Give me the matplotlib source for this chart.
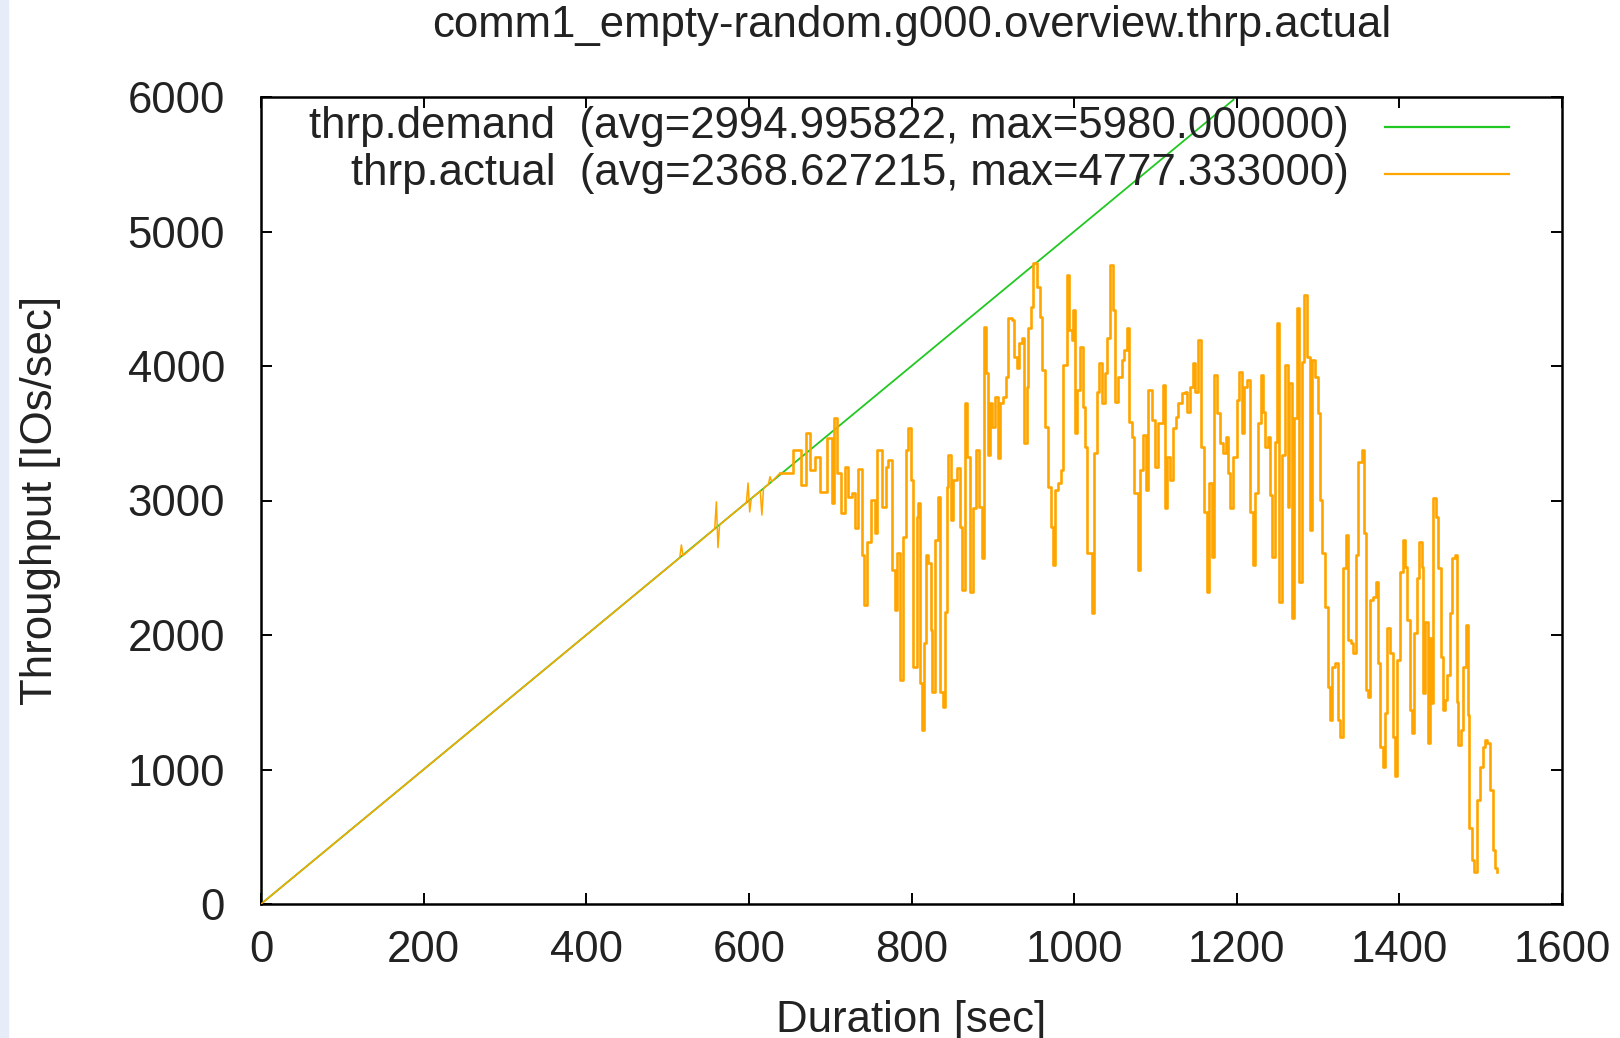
import matplotlib
matplotlib.use("Agg")
import matplotlib.pyplot as plt
from matplotlib.lines import Line2D
from matplotlib.patches import Rectangle

plt.rcParams['font.family'] = ['Liberation Sans', 'DejaVu Sans']

# ---------------- data ----------------
title = "comm1_empty-random.g000.overview.thrp.actual"
xlabel = "Duration [sec]"
ylabel = "Throughput [IOs/sec]"
demand_label = "thrp.demand  (avg=2994.995822, max=5980.000000)"
actual_label = "thrp.actual  (avg=2368.627215, max=4777.333000)"

xticks = [0, 200, 400, 600, 800, 1000, 1200, 1400, 1600]
yticks = [0, 1000, 2000, 3000, 4000, 5000, 6000]

# demand ramp
demand_t = [0, 1196]
demand_v = [0, 5980]

# actual: ramp phase (tracks demand, a few spikes)
ramp_t = [0, 400, 515, 517, 519, 558, 560, 562, 564, 597, 599, 601, 603,
          614, 616, 618, 624, 626, 628, 638]
ramp_v = [0, 2000, 2575, 2670, 2590, 2790, 2990, 2650, 2820, 2985, 3130, 2915, 3015,
          3070, 2892, 3090, 3120, 3177, 3140, 3202]

# actual: saturated phase (stepped samples)
act_t = [638.0, 654.7, 663.7, 670.3, 675.2, 681.4, 687.5, 695.7, 701.9, 704.7,
         708.8, 712.9, 718.3, 722.4, 726.5, 730.6, 734.7, 738.8, 741.6, 745.7,
         749.8, 755.2, 758.0, 763.4, 768.7, 771.6, 775.7, 779.8, 782.6, 785.9,
         789.2, 793.3, 795.3, 799.4, 802.3, 806.4, 808.5, 810.5, 812.6, 815.4,
         817.9, 820.7, 824.0, 825.6, 828.9, 832.2, 835.1, 839.2, 841.2, 843.3,
         845.3, 848.6, 851.5, 855.6, 859.7, 862.5, 865.8, 868.7, 872.0, 876.1,
         878.9, 883.0, 886.3, 889.6, 891.6, 893.7, 896.6, 899.4, 902.7, 906.0,
         908.9, 913.0, 915.8, 919.1, 923.2, 926.5, 929.4, 932.6, 936.3, 938.8,
         941.7, 943.7, 947.0, 949.9, 954.0, 958.1, 960.9, 964.2, 968.3, 971.6,
         973.6, 976.5, 980.6, 983.9, 986.8, 990.9, 993.7, 996.9, 999.0, 1001.1,
         1003.9, 1007.2, 1010.5, 1013.4, 1016.2, 1021.6, 1024.4, 1027.7, 1031.0, 1033.9,
         1038.0, 1040.8, 1044.1, 1047.4, 1050.3, 1054.4, 1058.5, 1061.3, 1064.6, 1067.9,
         1070.8, 1073.6, 1078.1, 1081.0, 1085.1, 1088.4, 1091.2, 1095.3, 1099.4, 1103.5,
         1108.9, 1111.7, 1114.6, 1117.9, 1122.0, 1125.3, 1128.2, 1132.3, 1136.4, 1139.2,
         1142.5, 1145.8, 1148.7, 1151.9, 1155.6, 1159.7, 1163.0, 1166.3, 1169.2, 1172.0,
         1175.3, 1179.4, 1183.5, 1186.3, 1189.6, 1191.7, 1195.8, 1199.9, 1202.7, 1206.0,
         1209.3, 1213.0, 1216.3, 1219.5, 1222.4, 1226.5, 1229.8, 1232.7, 1234.7, 1238.0,
         1240.9, 1243.7, 1247.0, 1249.1, 1251.9, 1255.2, 1259.3, 1262.6, 1264.2, 1267.5,
         1270.8, 1273.7, 1276.5, 1279.8, 1283.1, 1285.9, 1290.1, 1292.9, 1296.2, 1299.5,
         1302.4, 1305.2, 1308.5, 1312.6, 1314.7, 1317.5, 1320.8, 1324.9, 1327.0, 1330.2,
         1333.9, 1337.2, 1340.0, 1343.4, 1346.7, 1349.6, 1353.7, 1356.5, 1359.0, 1361.9,
         1363.9, 1368.0, 1371.3, 1374.2, 1376.2, 1380.3, 1382.4, 1385.2, 1388.5, 1391.8,
         1394.7, 1397.5, 1400.8, 1404.1, 1407.0, 1409.8, 1413.1, 1415.2, 1418.0, 1421.3,
         1424.6, 1427.5, 1429.5, 1431.6, 1434.8, 1437.7, 1439.8, 1441.8, 1445.1, 1448.0,
         1450.8, 1453.3, 1456.2, 1459.0, 1462.3, 1465.2, 1468.5, 1470.5, 1472.6, 1475.4,
         1478.7, 1482.0, 1484.0, 1485.7, 1489.0, 1491.8, 1495.1, 1499.2, 1502.5, 1505.4,
         1508.2, 1511.5, 1514.8, 1517.7, 1519.7]
act_v = [3202, 3376, 3116, 3505, 3227, 3326, 3066, 3463, 2979, 3611,
         3202, 2905, 3252, 3029, 3054, 2794, 3232, 2595, 2224, 2694,
         3004, 2756, 3376, 2955, 3252, 3302, 2484, 2187, 2608, 1666,
         2732, 3376, 3537, 3153, 1765, 2880, 2979, 1641, 1294, 1939,
         2595, 2533, 2038, 1579, 2707, 3029, 1579, 1468, 2174, 3103,
         3339, 2855, 3153, 3240, 2806, 2335, 3723, 3326, 2323, 2942,
         3376, 2955, 2570, 4293, 3946, 3339, 3723, 3549, 3772, 3314,
         3723, 3772, 3921, 4355, 4342, 4070, 3983, 4169, 4206, 3425,
         3847, 4280, 4441, 4764, 4590, 4367, 3971, 3549, 3103, 2806,
         2521, 3079, 3128, 3227, 4008, 4677, 4268, 4194, 4417, 3500,
         3822, 4144, 3698, 3401, 2608, 2162, 3351, 3810, 4020, 3723,
         3946, 4206, 4751, 4417, 3735, 3921, 4045, 4119, 4280, 3587,
         3475, 3054, 2484, 3227, 3487, 3079, 3822, 3599, 3252, 3574,
         3859, 2942, 3326, 3153, 3537, 3624, 3723, 3797, 3810, 3661,
         3847, 4020, 3810, 4194, 3401, 2917, 2323, 3128, 2583, 3933,
         3648, 3425, 3351, 3475, 3202, 2942, 3326, 3748, 3958, 3500,
         3847, 3896, 2917, 2521, 3054, 3574, 3933, 3661, 3401, 3475,
         3041, 2583, 3438, 4318, 2248, 3339, 4008, 2955, 3871, 2124,
         3611, 4429, 2397, 4033, 4528, 4070, 2781, 4045, 3921, 3648,
         3004, 2608, 2211, 1616, 1369, 1765, 1790, 1369, 1245, 2496,
         2744, 1963, 1940, 1864, 2595, 3289, 3376, 2756, 1592, 1542,
         2261, 2286, 2397, 1790, 1171, 1022, 1418, 2050, 1864, 1245,
         948, 1815, 2472, 2707, 2509, 2112, 1443, 1270, 2013, 2422,
         2695, 2509, 1567, 2100, 1195, 1976, 1493, 3017, 2880, 2496,
         1840, 1443, 1517, 1703, 2162, 2571, 2595, 1505, 1183, 1294,
         1765, 2075, 1406, 563, 328, 241, 774, 1022, 1171, 1220,
         1195, 848, 402, 266, 241]

# ---------------- style ----------------
GREEN = "#22c822"
ORANGE = "#ffa500"
FS = 31.5
TXT = "#222222"

fig = plt.figure(figsize=(16.2, 10.38), dpi=100)
fig.patches.append(Rectangle((0, 0), 8 / 1620, 1, transform=fig.transFigure,
                             color="#e6edf8", zorder=0))
ax = fig.add_axes([261 / 1620, 1 - 904 / 1038, 1301 / 1620, 807 / 1038])

ax.plot(demand_t, demand_v, color=GREEN, lw=1.3, zorder=2)
ax.plot(ramp_t, ramp_v, color=ORANGE, lw=1.1, zorder=3)
ax.plot(act_t, act_v, color=ORANGE, lw=1.9, drawstyle="steps-post", zorder=3)

ax.set_xlim(0, 1600)
ax.set_ylim(0, 6000)
ax.set_xticks(xticks)
ax.set_yticks(yticks)
ax.tick_params(direction="in", length=8, width=1.4, top=True, right=True,
               labelsize=FS, colors="black", labelcolor=TXT)
ax.tick_params(axis="y", pad=26)
ax.tick_params(axis="x", pad=19)
for s in ax.spines.values():
    s.set_linewidth(1.8)
    s.set_color("black")

ax.set_title(title, fontsize=FS, pad=43, color=TXT)
ax.set_xlabel(xlabel, fontsize=FS, color=TXT)
ax.set_ylabel(ylabel, fontsize=FS, color=TXT)
ax.xaxis.set_label_coords(0.5, -0.119)
ax.yaxis.set_label_coords(-0.154, 0.5)

# gnuplot-style key (text right-aligned, sample to the right)
key_rows = [(demand_label, GREEN, 0.963), (actual_label, ORANGE, 0.905)]
for lab, col, yy in key_rows:
    ax.text(0.836, yy, lab, transform=ax.transAxes, ha="right", va="center",
            fontsize=FS, color=TXT)
    ax.add_line(Line2D([0.864, 0.959], [yy, yy], transform=ax.transAxes,
                       color=col, lw=1.6))

fig.savefig("out.png", dpi=100)
